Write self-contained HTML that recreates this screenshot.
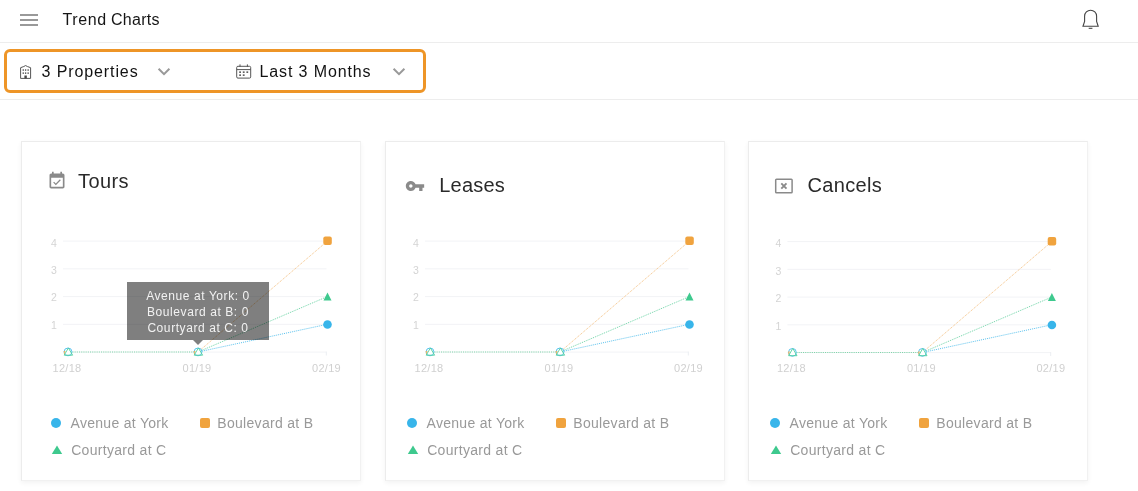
<!DOCTYPE html>
<html lang="en">
<head>
<meta charset="utf-8">
<title>Trend Charts</title>
<style>
html,body{margin:0;padding:0;background:#fff;}
body{width:1138px;height:491px;position:relative;overflow:hidden;font-family:"Liberation Sans", sans-serif;}
.hdr{position:absolute;left:0;top:0;width:1138px;height:42px;border-bottom:1px solid #ededed;}
.bar{position:absolute;left:20px;width:18px;height:2px;background:#999;}
.ttl{position:absolute;left:62.5px;top:0;height:42px;line-height:40px;font-size:16px;color:#151515;white-space:nowrap;}
.flt{position:absolute;left:0;top:43px;width:1138px;height:56px;border-bottom:1px solid #ededed;}
.hl{position:absolute;left:4px;top:49px;width:416px;height:38px;border:3px solid #ee9527;border-radius:6px;}
.ft{position:absolute;top:60px;height:24px;line-height:24px;font-size:16px;color:#111;white-space:nowrap;}
.card{position:absolute;top:141px;width:338px;height:338px;background:#fff;border:1px solid #ececec;border-right-color:#f1f1f1;border-bottom-color:#f1f1f1;box-shadow:0 2px 5px rgba(0,0,0,0.05);box-sizing:content-box;}
.ct{position:absolute;font-size:20px;line-height:24px;color:#2a2a2a;white-space:nowrap;}
svg{position:absolute;left:0;top:0;}
svg text{font-family:"Liberation Sans", sans-serif;}
.grid{stroke:#f2f3f6;stroke-width:1;}
.tick{stroke:#eceef2;stroke-width:1;}
.ax{font-size:11px;fill:#d0d0d0;letter-spacing:0.25px;}
.ay{font-size:10.5px;letter-spacing:0;fill:#d4d4d4;}
.lg{font-size:14px;fill:#999;letter-spacing:0.3px;}
.ln{fill:none;stroke-width:1;stroke-dasharray:1 1;}
.ln.h{stroke:#7fd4a9;stroke-dasharray:1.1 1.1;}
.ln.o{stroke:#f5c080;}
.ln.b{stroke:#5cc3ee;}
.ln.g{stroke:#6fd5a8;}
.ho{fill:none;stroke:#f3b262;stroke-width:1;}
.hb{fill:#fff;stroke:#45bbee;stroke-width:0.9;}
.hg{fill:none;stroke:#4fd09c;stroke-width:0.9;}
.tip{position:absolute;left:127px;top:282px;width:142px;height:57.5px;background:rgba(0,0,0,0.5);color:#f2f2f2;font-size:12px;letter-spacing:0.58px;line-height:16px;text-align:center;box-sizing:border-box;padding-top:5.5px;white-space:nowrap;}
.tip:after{content:"";position:absolute;left:66px;top:57.5px;border:5px solid transparent;border-top-color:rgba(0,0,0,0.5);border-bottom:0;}
</style>
</head>
<body>
<div class="hdr">
  <div class="bar" style="top:14px"></div><div class="bar" style="top:19px"></div><div class="bar" style="top:24px"></div>
  <div class="ttl"><span style="letter-spacing:0.62px">Trend</span><span style="letter-spacing:0.3px;margin-left:-0.6px"> Charts</span></div>
</div>
<div class="flt"></div>
<div class="card" style="left:21px"></div>
<div class="card" style="left:385px"></div>
<div class="card" style="left:748px"></div>

<svg width="1138" height="491" viewBox="0 0 1138 491">
<!-- bell -->
<g fill="none" stroke="#444" stroke-width="1.1">
<path d="M1083 26.2 L1084.6 21.5 V16.2 A6 6 0 0 1 1096.6 16.2 V21.5 L1098.2 26.2 Z"/>
<path d="M1088.7 28.3 H1092.4"/>
</g>
<!-- building icon -->
<g fill="none" stroke="#555" stroke-width="1">
<path d="M20.6 78.4 V67.7 L23.8 66.5 Q25.6 64.6 27.4 66.5 L30.6 67.7 V78.4 Z"/>
</g>
<rect x="24.4" y="75.5" width="2.4" height="2.9" fill="#444"/>
<g fill="#666">
<rect x="22.6" y="69.2" width="1.3" height="1.7"/><rect x="24.95" y="69.2" width="1.3" height="1.7"/><rect x="27.5" y="69.2" width="1.3" height="1.7"/>
<rect x="22.6" y="72.3" width="1.3" height="1.7"/><rect x="24.95" y="72.3" width="1.3" height="1.7"/><rect x="27.5" y="72.3" width="1.3" height="1.7"/>
</g>
<!-- chevrons -->
<path d="M158.6 68.8 L164 74.2 L169.4 68.8" fill="none" stroke="#999" stroke-width="2"/>
<path d="M393.6 68.8 L399 74.2 L404.4 68.8" fill="none" stroke="#999" stroke-width="2"/>
<!-- calendar icon (filter) -->
<g fill="none" stroke="#555" stroke-width="1">
<rect x="236.7" y="66.3" width="14" height="11.8" rx="1.2"/>
<path d="M236.7 69.6 H250.7 M240 64.4 V66.8 M247.4 64.4 V66.8"/>
</g>
<g fill="#505050">
<rect x="239.2" y="71.4" width="1.8" height="1.5"/><rect x="242.8" y="71.4" width="1.8" height="1.5"/><rect x="246.4" y="71.4" width="1.8" height="1.5"/>
<rect x="239.2" y="74.4" width="1.8" height="1.5"/><rect x="242.8" y="74.4" width="1.8" height="1.5"/>
</g>
<!-- Tours icon: event_available 20px at (47,171) -->
<g transform="translate(47,171) scale(0.8333)" fill="#8a8a8a">
<path d="M16.53 11.06L15.47 10l-4.88 4.88-2.12-2.12-1.06 1.06L10.59 17l5.94-5.94zM19 3h-1V1h-2v2H8V1H6v2H5c-1.11 0-1.99.9-1.99 2L3 19c0 1.1.89 2 2 2h14c1.1 0 2-.9 2-2V5c0-1.1-.9-2-2-2zm0 16H5V8h14v11z"/>
</g>
<!-- Leases icon: vpn_key 20px at (405,176) -->
<g transform="translate(405,176) scale(0.8333)" fill="#8a8a8a">
<path d="M12.65 10C11.83 7.67 9.61 6 7 6c-3.31 0-6 2.69-6 6s2.69 6 6 6c2.61 0 4.83-1.67 5.65-4H17v4h4v-4h2v-4H12.65zM7 14c-1.1 0-2-.9-2-2s.9-2 2-2 2 .9 2 2-.9 2-2 2z"/>
</g>
<!-- Cancels icon -->
<g fill="none" stroke="#8a8a8a" stroke-width="1.5">
<rect x="775.7" y="179.3" width="16.4" height="13.4" rx="0.8"/>
<path d="M781.3 183.4 L786.5 188.6 M786.5 183.4 L781.3 188.6" stroke-width="1.9"/>
</g>
<line x1="63.00" y1="352.10" x2="326.50" y2="352.10" class="grid"/>
<line x1="63.00" y1="324.35" x2="326.50" y2="324.35" class="grid"/>
<line x1="63.00" y1="296.60" x2="326.50" y2="296.60" class="grid"/>
<line x1="63.00" y1="268.85" x2="326.50" y2="268.85" class="grid"/>
<line x1="63.00" y1="241.10" x2="326.50" y2="241.10" class="grid"/>
<line x1="326.30" y1="351.60" x2="326.30" y2="355.50" class="tick"/>
<text x="56.90" y="329.15" class="ax ay" text-anchor="end">1</text>
<text x="56.90" y="301.40" class="ax ay" text-anchor="end">2</text>
<text x="56.90" y="274.35" class="ax ay" text-anchor="end">3</text>
<text x="56.90" y="246.60" class="ax ay" text-anchor="end">4</text>
<text x="67.00" y="372.00" class="ax" text-anchor="middle">12/18</text>
<text x="197.00" y="372.00" class="ax" text-anchor="middle">01/19</text>
<text x="326.50" y="372.00" class="ax" text-anchor="middle">02/19</text>
<line x1="68" y1="352" x2="198" y2="352" class="ln h"/>
<line x1="198" y1="352" x2="327.5" y2="241.0" class="ln o"/>
<line x1="198" y1="352" x2="327.5" y2="324.25" class="ln b"/>
<line x1="198" y1="352" x2="327.5" y2="296.5" class="ln g"/>
<circle cx="68.00" cy="351.90" r="3.9" class="hb"/>
<path d="M63.80 351.50H65.40M64.40 351.50V354.00" class="ho"/>
<path d="M68.40 347.90L72.60 355.20H64.20Z" class="hg"/>
<circle cx="198.00" cy="351.90" r="3.9" class="hb"/>
<path d="M193.80 351.50H195.40M194.40 351.50V354.00" class="ho"/>
<path d="M198.40 347.90L202.60 355.20H194.20Z" class="hg"/>
<rect x="323.30" y="236.40" width="8.5" height="8.5" rx="2" fill="#f0a33e"/>
<path d="M327.50 292.50L331.50 300.50H323.50Z" fill="#3ec98e"/>
<circle cx="327.50" cy="324.55" r="4.3" fill="#38b5ea"/>
<line x1="425.00" y1="352.10" x2="688.50" y2="352.10" class="grid"/>
<line x1="425.00" y1="324.35" x2="688.50" y2="324.35" class="grid"/>
<line x1="425.00" y1="296.60" x2="688.50" y2="296.60" class="grid"/>
<line x1="425.00" y1="268.85" x2="688.50" y2="268.85" class="grid"/>
<line x1="425.00" y1="241.10" x2="688.50" y2="241.10" class="grid"/>
<line x1="688.30" y1="351.60" x2="688.30" y2="355.50" class="tick"/>
<text x="418.90" y="329.15" class="ax ay" text-anchor="end">1</text>
<text x="418.90" y="301.40" class="ax ay" text-anchor="end">2</text>
<text x="418.90" y="274.35" class="ax ay" text-anchor="end">3</text>
<text x="418.90" y="246.60" class="ax ay" text-anchor="end">4</text>
<text x="429.00" y="372.00" class="ax" text-anchor="middle">12/18</text>
<text x="559.00" y="372.00" class="ax" text-anchor="middle">01/19</text>
<text x="688.50" y="372.00" class="ax" text-anchor="middle">02/19</text>
<line x1="430" y1="352" x2="560" y2="352" class="ln h"/>
<line x1="560" y1="352" x2="689.5" y2="241.0" class="ln o"/>
<line x1="560" y1="352" x2="689.5" y2="324.25" class="ln b"/>
<line x1="560" y1="352" x2="689.5" y2="296.5" class="ln g"/>
<circle cx="430.00" cy="351.90" r="3.9" class="hb"/>
<path d="M425.80 351.50H427.40M426.40 351.50V354.00" class="ho"/>
<path d="M430.40 347.90L434.60 355.20H426.20Z" class="hg"/>
<circle cx="560.00" cy="351.90" r="3.9" class="hb"/>
<path d="M555.80 351.50H557.40M556.40 351.50V354.00" class="ho"/>
<path d="M560.40 347.90L564.60 355.20H556.20Z" class="hg"/>
<rect x="685.30" y="236.40" width="8.5" height="8.5" rx="2" fill="#f0a33e"/>
<path d="M689.50 292.50L693.50 300.50H685.50Z" fill="#3ec98e"/>
<circle cx="689.50" cy="324.55" r="4.3" fill="#38b5ea"/>
<line x1="787.40" y1="352.60" x2="1050.90" y2="352.60" class="grid"/>
<line x1="787.40" y1="324.85" x2="1050.90" y2="324.85" class="grid"/>
<line x1="787.40" y1="297.10" x2="1050.90" y2="297.10" class="grid"/>
<line x1="787.40" y1="269.35" x2="1050.90" y2="269.35" class="grid"/>
<line x1="787.40" y1="241.60" x2="1050.90" y2="241.60" class="grid"/>
<line x1="1050.70" y1="352.10" x2="1050.70" y2="356.00" class="tick"/>
<text x="781.30" y="329.55" class="ax ay" text-anchor="end">1</text>
<text x="781.30" y="301.80" class="ax ay" text-anchor="end">2</text>
<text x="781.30" y="274.75" class="ax ay" text-anchor="end">3</text>
<text x="781.30" y="247.00" class="ax ay" text-anchor="end">4</text>
<text x="791.40" y="372.40" class="ax" text-anchor="middle">12/18</text>
<text x="921.40" y="372.40" class="ax" text-anchor="middle">01/19</text>
<text x="1050.90" y="372.40" class="ax" text-anchor="middle">02/19</text>
<line x1="792" y1="352.5" x2="922.4" y2="352.5" class="ln h"/>
<line x1="922.4" y1="352.5" x2="1051.9" y2="241.5" class="ln o"/>
<line x1="922.4" y1="352.5" x2="1051.9" y2="324.75" class="ln b"/>
<line x1="922.4" y1="352.5" x2="1051.9" y2="297.0" class="ln g"/>
<circle cx="792.40" cy="352.40" r="3.9" class="hb"/>
<path d="M788.20 352.00H789.80M788.80 352.00V354.50" class="ho"/>
<path d="M792.80 348.40L797.00 355.70H788.60Z" class="hg"/>
<circle cx="922.40" cy="352.40" r="3.9" class="hb"/>
<path d="M918.20 352.00H919.80M918.80 352.00V354.50" class="ho"/>
<path d="M922.80 348.40L927.00 355.70H918.60Z" class="hg"/>
<rect x="1047.70" y="236.90" width="8.5" height="8.5" rx="2" fill="#f0a33e"/>
<path d="M1051.90 293.00L1055.90 301.00H1047.90Z" fill="#3ec98e"/>
<circle cx="1051.90" cy="325.05" r="4.3" fill="#38b5ea"/>
<circle cx="56" cy="423" r="5" fill="#38b5ea"/>
<path d="M57 445.5L62.2 454H51.8Z" fill="#3ec98e"/>
<rect x="200" y="418" width="10" height="10" rx="2" fill="#f0a33e"/>
<text x="70.5" y="428" class="lg">Avenue at York</text>
<text x="217.3" y="428" class="lg">Boulevard at B</text>
<text x="71.2" y="455" class="lg">Courtyard at C</text>
<circle cx="412" cy="423" r="5" fill="#38b5ea"/>
<path d="M413 445.5L418.2 454H407.8Z" fill="#3ec98e"/>
<rect x="556" y="418" width="10" height="10" rx="2" fill="#f0a33e"/>
<text x="426.5" y="428" class="lg">Avenue at York</text>
<text x="573.3" y="428" class="lg">Boulevard at B</text>
<text x="427.2" y="455" class="lg">Courtyard at C</text>
<circle cx="775" cy="423" r="5" fill="#38b5ea"/>
<path d="M776 445.5L781.2 454H770.8Z" fill="#3ec98e"/>
<rect x="919" y="418" width="10" height="10" rx="2" fill="#f0a33e"/>
<text x="789.5" y="428" class="lg">Avenue at York</text>
<text x="936.3" y="428" class="lg">Boulevard at B</text>
<text x="790.2" y="455" class="lg">Courtyard at C</text>
</svg>

<div class="ft" style="left:41.5px;letter-spacing:0.9px">3 Properties</div>
<div class="ft" style="left:259.5px;letter-spacing:0.88px">Last 3 Months</div>
<div class="ct" style="left:78px;top:169px;letter-spacing:0.4px">Tours</div>
<div class="ct" style="left:439.3px;top:173px;letter-spacing:0.2px">Leases</div>
<div class="ct" style="left:807.5px;top:173px;letter-spacing:0.35px">Cancels</div>
<div class="hl"></div>
<div class="tip">Avenue at York: 0<br>Boulevard at B: 0<br>Courtyard at C: 0</div>
</body>
</html>
